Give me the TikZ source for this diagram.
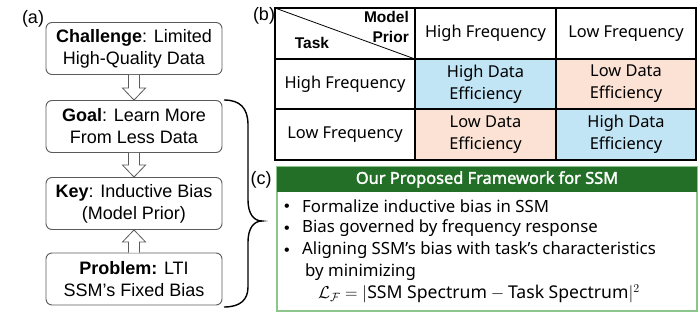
\documentclass[tikz,border=0pt]{standalone}
\usepackage{fontspec}
\usepackage{amsmath}
\setmainfont{Liberation Sans}
\newfontfamily\apt{Noto Sans}
\newfontfamily\aptbold{Noto Sans}[FakeBold=2]
\usetikzlibrary{calc}
\definecolor{cellblue}{HTML}{C1E5F5}
\definecolor{cellpeach}{HTML}{FBE2D5}
\definecolor{hdrgreen}{HTML}{236F27}
\definecolor{boxgreen}{HTML}{8CC68C}
\definecolor{boxgray}{HTML}{5A5A5A}
\begin{document}
\begin{tikzpicture}[x=1pt,y=-1pt,
  flowbox/.style={draw=boxgray, line width=0.9pt, rounded corners=6pt, minimum width=176pt, minimum height=52pt, align=center, font=\fontsize{18}{22}\selectfont, inner sep=0pt},
  hollow/.style={draw=boxgray, fill=white, line width=0.8pt, line join=miter},
  lbl/.style={font=\fontsize{18}{22}\selectfont, inner sep=0pt},
  cell/.style={minimum width=141pt, minimum height=50.5pt, inner sep=0pt, align=center, font=\apt\fontsize{16.4}{22}\selectfont},
  corner/.style={font=\bfseries\fontsize{15.5}{17}\selectfont, inner sep=0pt},
  bul/.style={anchor=west, inner sep=0pt, font=\apt\fontsize{16.8}{19}\selectfont},
  dot/.style={inner sep=0pt, font=\fontsize{16}{16}\selectfont},
  gridline/.style={line width=1.2pt, draw=black}
]
\useasboundingbox (0,0) rectangle (698,313);

% (a) flow
\node[lbl] (la) at (33,19) {(a)};
\node[flowbox] (chal) at (134,48.5) {\textbf{Challenge}: Limited\\High-Quality Data};
\node[flowbox] (goal) at (134,126.5) {\textbf{Goal}: Learn More\\From Less Data};
\node[flowbox] (key) at (134,203.5) {\textbf{Key}: Inductive Bias\\(Model Prior)};
\node[flowbox] (prob) at (134,279) {\textbf{Problem:} LTI\\SSM's Fixed Bias};

% hollow arrows
\draw[hollow] ($(chal.south)+(-5.5,0)$) -- ($(goal.north)+(-5.5,-12)$) -- ($(goal.north)+(-11.5,-12)$) -- (goal.north) -- ($(goal.north)+(11.5,-12)$) -- ($(goal.north)+(5.5,-12)$) -- ($(chal.south)+(5.5,0)$);
\draw[hollow] ($(goal.south)+(-5.5,0)$) -- ($(key.north)+(-5.5,-12)$) -- ($(key.north)+(-11.5,-12)$) -- (key.north) -- ($(key.north)+(11.5,-12)$) -- ($(key.north)+(5.5,-12)$) -- ($(goal.south)+(5.5,0)$);
\draw[hollow] ($(prob.north)+(-5.5,0)$) -- ($(key.south)+(-5.5,12)$) -- ($(key.south)+(-11.5,12)$) -- (key.south) -- ($(key.south)+(11.5,12)$) -- ($(key.south)+(5.5,12)$) -- ($(prob.north)+(5.5,0)$);

% brace
\draw[line width=1.4pt] (224,100) .. controls (240,100) and (248,108) .. (248,125) -- (248,200) .. controls (248,214) and (254,221) .. (262,221) .. controls (254,221) and (248,228) .. (248,242) -- (248,287) .. controls (248,300) and (240,307) .. (224,307);

% (b) table
\node[lbl] (lb) at (264,16) {(b)};
\node[cell, fill=cellblue] (c11) at (485.5,84) {High Data\\Efficiency};
\node[cell, fill=cellpeach] (c12) at (626,84) {Low Data\\Efficiency};
\node[cell, fill=cellpeach] (c21) at (485.5,134.5) {Low Data\\Efficiency};
\node[cell, fill=cellblue] (c22) at (626,134.5) {High Data\\Efficiency};
\node[cell] (h1) at (485.5,33.5) {High Frequency};
\node[cell] (h2) at (626,33.5) {Low Frequency};
\node[cell, minimum width=138pt] (r1) at (345,84) {High Frequency};
\node[cell, minimum width=138pt] (r2) at (345,134.5) {Low Frequency};
\node[corner] (task) at (312,43) {Task};
\node[corner, anchor=east] (model) at (409,17) {Model};
\node[corner, anchor=east] (prior) at (409,37) {Prior};
\draw[gridline] (415,8) -- (415,160) (556,8) -- (556,160) (275,59) -- (696,59) (275,109) -- (696,109);
\draw[line width=0.8pt] (275,8) -- (415,59);
\draw[line width=1.6pt] (275,8) rectangle (696,160);

% (c) framework
\node[lbl] (lc) at (261,180) {(c)};
\draw[boxgreen, line width=1.3pt] (277,167) rectangle (697,311);
\fill[hdrgreen] (277,167) rectangle (697,192);
\node[font=\aptbold\fontsize{16.4}{19}\selectfont, text=white, inner sep=0pt] (hdr) at (487,179.5) {Our Proposed Framework for SSM};
\node[dot] (b1) at (287,207.5) {•};
\node[bul] (t1) at (302,206) {Formalize inductive bias in SSM};
\node[dot] (b2) at (287,229.5) {•};
\node[bul] (t2) at (302,228) {Bias governed by frequency response};
\node[dot] (b3) at (287,251.5) {•};
\node[bul] (t3) at (302,250) {Aligning SSM’s bias with task’s characteristics};
\node[bul] (t4) at (305,272) {by minimizing};
\node[bul, font=\apt\fontsize{17.6}{19}\selectfont] (t5) at (318,294) {$\mathcal{L}_{\mathcal{F}} = |\text{SSM Spectrum} - \text{Task Spectrum}|^2$};
\end{tikzpicture}
\end{document}
